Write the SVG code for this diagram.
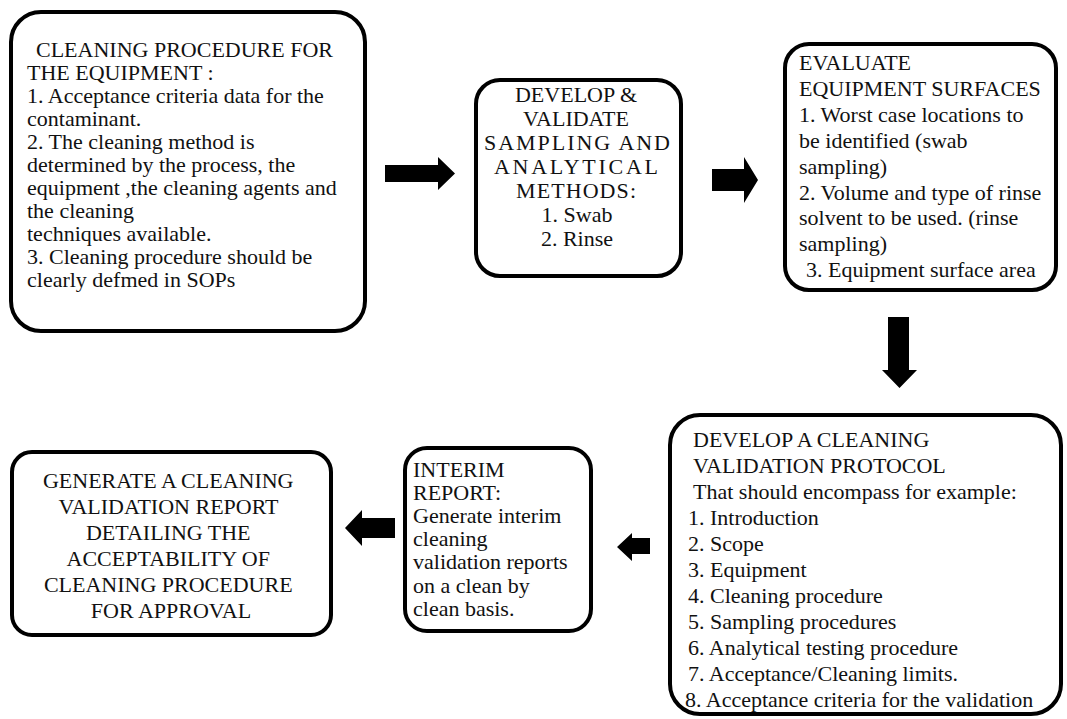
<svg xmlns="http://www.w3.org/2000/svg" width="1067" height="719" viewBox="0 0 1067 719">
<style>
.box{fill:#fff;stroke:#000;stroke-width:4}
text{font-family:'Liberation Serif','Times New Roman',serif;fill:#111;font-size:22px}
.c{text-anchor:middle}
.arr{fill:#000}
</style>
<rect width="1067" height="719" fill="#fff"/>
<g id="node-cleaning-procedure">
<rect class="box" x="11" y="12" width="354" height="319" rx="30"/>
<text>
<tspan x="36" y="57">CLEANING PROCEDURE FOR</tspan>
<tspan x="27" y="80">THE EQUIPMENT :</tspan>
<tspan x="27" y="103">1. Acceptance criteria data for the</tspan>
<tspan x="27" y="126">contaminant.</tspan>
<tspan x="27" y="149">2. The cleaning method is</tspan>
<tspan x="27" y="172">determined by the process, the</tspan>
<tspan x="27" y="195">equipment ,the cleaning agents and</tspan>
<tspan x="27" y="218">the cleaning</tspan>
<tspan x="27" y="241">techniques available.</tspan>
<tspan x="27" y="264">3. Cleaning procedure should be</tspan>
<tspan x="27" y="287">clearly defmed in SOPs</tspan>
</text>
</g>
<g id="node-develop-sampling">
<rect class="box" x="476" y="80" width="205" height="196" rx="24"/>
<text class="c" x="576" y="102">DEVELOP &amp;</text>
<text class="c" x="576" y="126">VALIDATE</text>
<text class="c" x="577" y="150" textLength="186" lengthAdjust="spacing">SAMPLING AND</text>
<text class="c" x="576" y="174" textLength="164" lengthAdjust="spacing">ANALYTICAL</text>
<text class="c" x="576" y="198" textLength="120" lengthAdjust="spacing">METHODS:</text>
<text class="c" x="577" y="222">1. Swab</text>
<text class="c" x="577" y="246">2. Rinse</text>
</g>
<g id="node-evaluate-surfaces">
<rect class="box" x="785" y="44" width="271" height="246" rx="24"/>
<text>
<tspan x="799" y="70">EVALUATE</tspan>
<tspan x="799" y="96">EQUIPMENT SURFACES</tspan>
<tspan x="799" y="122">1. Worst case locations  to</tspan>
<tspan x="799" y="148">be identified  (swab</tspan>
<tspan x="799" y="174">sampling)</tspan>
<tspan x="799" y="200">2. Volume and type of rinse</tspan>
<tspan x="799" y="225">solvent to be used. (rinse</tspan>
<tspan x="799" y="251">sampling)</tspan>
<tspan x="806" y="277">3. Equipment  surface area</tspan>
</text>
</g>
<g id="node-protocol">
<rect class="box" x="670" y="415" width="391" height="299" rx="30"/>
<text>
<tspan x="693" y="447">DEVELOP A CLEANING</tspan>
<tspan x="693" y="473">VALIDATION PROTOCOL</tspan>
<tspan x="693" y="499">That should encompass  for example:</tspan>
<tspan x="688" y="525">1.  Introduction</tspan>
<tspan x="688" y="551">2. Scope</tspan>
<tspan x="688" y="577">3.  Equipment</tspan>
<tspan x="688" y="603">4.  Cleaning procedure</tspan>
<tspan x="688" y="629">5.  Sampling procedures</tspan>
<tspan x="688" y="655">6.  Analytical  testing procedure</tspan>
<tspan x="688" y="681">7.  Acceptance/Cleaning  limits.</tspan>
<tspan x="685" y="707">8.  Acceptance  criteria  for the validation</tspan>
</text>
</g>
<g id="node-interim">
<rect class="box" x="405" y="448" width="186" height="183" rx="22"/>
<text>
<tspan x="413" y="477">INTERIM</tspan>
<tspan x="413" y="500">REPORT:</tspan>
<tspan x="413" y="523">Generate interim</tspan>
<tspan x="413" y="546">cleaning</tspan>
<tspan x="413" y="569">validation reports</tspan>
<tspan x="413" y="593">on a clean  by</tspan>
<tspan x="413" y="616">clean basis.</tspan>
</text>
</g>
<g id="node-final-report">
<rect class="box" x="12" y="452" width="319" height="183" rx="20"/>
<text class="c">
<tspan x="171" y="488">GENERATE A CLEANING</tspan>
<tspan x="171" y="514">VALIDATION REPORT</tspan>
<tspan x="171" y="540">DETAILING THE</tspan>
<tspan x="171" y="566">ACCEPTABILITY OF</tspan>
<tspan x="171" y="592">CLEANING PROCEDURE</tspan>
<tspan x="171" y="618">FOR APPROVAL</tspan>
</text>
</g>
<g id="connectors">
<polygon class="arr" points="385,165 438,165 438,157 455,173.5 438,190 438,182 385,182"/>
<polygon class="arr" points="712,169 744,169 744,157 758,180 744,203 744,191 712,191"/>
<polygon class="arr" points="888,317 909,317 909,370 917,370 899.5,388 882,370 888,370"/>
<polygon class="arr" points="650,538 632,538 632,533 617,547 632,561 632,554 650,554"/>
<polygon class="arr" points="395,518 362,518 362,510 345,528 362,546 362,538 395,538"/>
</g>
</svg>
